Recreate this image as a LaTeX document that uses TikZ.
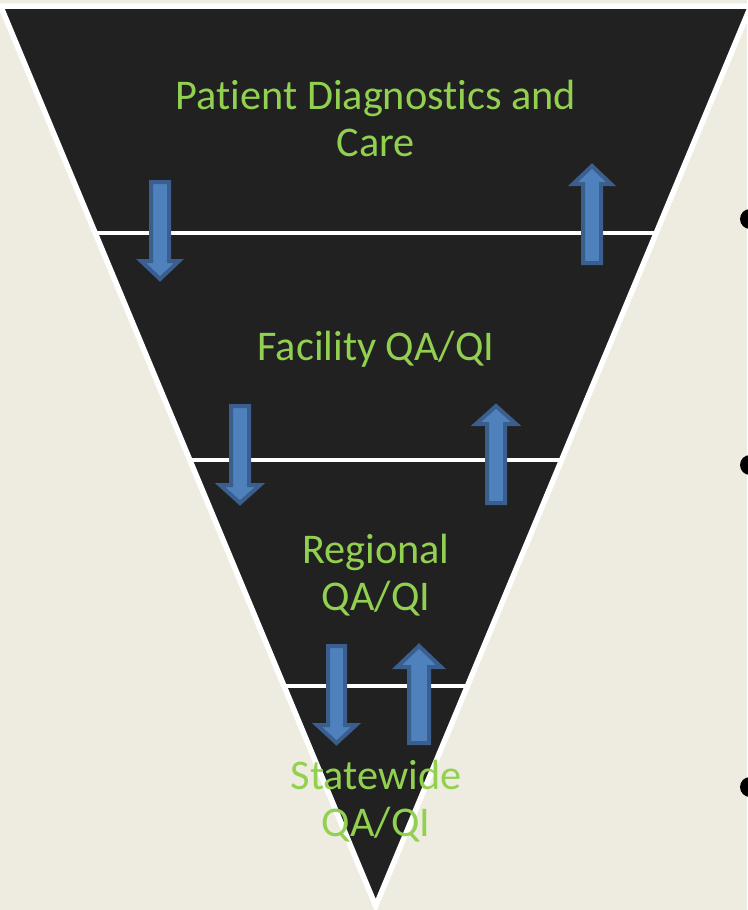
\documentclass[tikz,border=0pt]{standalone}
\usepackage{fontspec}
\setmainfont{Carlito}[Ligatures={NoCommon}]
\usetikzlibrary{calc}

\definecolor{pagebg}{HTML}{EEECE1}
\definecolor{funnel}{HTML}{212121}
\definecolor{leafgreen}{HTML}{92D050}
\definecolor{arrowfill}{HTML}{4F81BD}
\definecolor{arrowedge}{HTML}{3A5F8E}

\tikzset{
  funnelbody/.style={fill=funnel},
  funneledge/.style={draw=white, line width=5.5pt, line join=miter},
  divider/.style={draw=white, line width=4.6pt},
  arrowbody/.style={fill=arrowfill, draw=arrowedge, line width=4pt, line join=miter},
  levellabel/.style={text=leafgreen, align=center, anchor=base,
    font=\fontsize{42.3}{47}\selectfont, inner sep=0pt},
  bulletdot/.style={fill=black}
}

% block arrow: centre x, tail y, tip y, shaft half width, head half width, head length
\newcommand{\flowarrow}[6]{%
  \pgfmathsetmacro\headbase{#3 + ((#2-#3)/abs(#2-#3))*#6}%
  \draw[arrowbody] (#1-#4,#2) -- (#1+#4,#2) -- (#1+#4,\headbase)
    -- (#1+#5,\headbase) -- (#1,#3) -- (#1-#5,\headbase)
    -- (#1-#4,\headbase) -- cycle;%
}

\begin{document}
\begin{tikzpicture}[x=1pt, y=-1pt]
  % page
  \fill[pagebg] (0,0) rectangle (747,910);
  \useasboundingbox (0,0) rectangle (747,910);

  % funnel corners
  \coordinate (TL) at (0.6,6);
  \coordinate (TR) at (750.8,6);
  \coordinate (AP) at (375.7,906);

  \fill[funnelbody] (TL) -- (TR) -- (AP) -- cycle;

  % level dividers
  \foreach \f/\n in {0.2522/a, 0.5044/b, 0.7556/c} {
    \coordinate (L\n) at ($(TL)!\f!(AP)$);
    \coordinate (R\n) at ($(TR)!\f!(AP)$);
    \draw[divider] (L\n) -- (R\n);
  }

  \draw[funneledge] (TL) -- (TR) -- (AP) -- cycle;

  % level labels (base anchor sits on the last line)
  \node[levellabel] (care) at (376,156.5) {Patient Diagnostics and\\Care};
  \node[levellabel] (facility) at (376,360.5) {Facility QA/QI};
  \node[levellabel] (regional) at (376,610.5) {Regional\\QA/QI};
  \node[levellabel] (statewide) at (376,836.5) {Statewide\\QA/QI};

  % information flow between levels
  \flowarrow{160}{182}{279}{9}{19}{18}
  \flowarrow{592}{263}{166}{9}{19}{18}
  \flowarrow{240}{406}{503}{9}{20}{18}
  \flowarrow{496}{503}{406}{9}{20}{18}
  \flowarrow{336.5}{646}{743}{8.5}{19.5}{18}
  \flowarrow{419}{743}{646}{10}{22}{21}

  % list bullets at the page edge
  \fill[bulletdot] (750,219) circle (10);
  \fill[bulletdot] (750,465) circle (10);
  \fill[bulletdot] (750,787) circle (10);
\end{tikzpicture}
\end{document}
